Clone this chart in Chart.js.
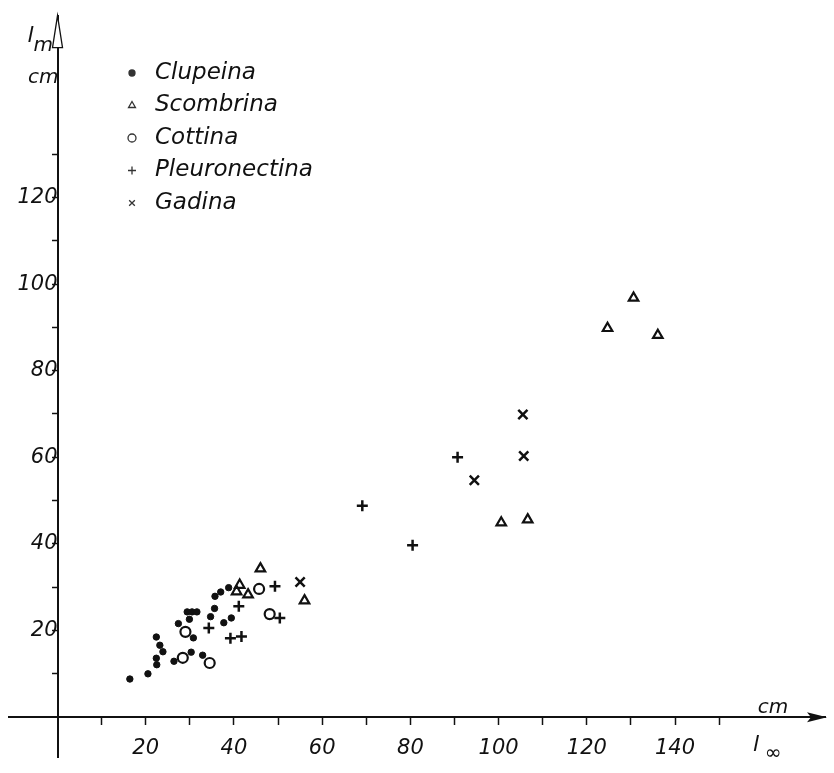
<!DOCTYPE html>
<html>
<head>
<meta charset="utf-8">
<title>l_m vs l_inf</title>
<script src="https://cdn.jsdelivr.net/npm/chart.js@4.4.1/dist/chart.umd.min.js"></script>
<style>
  html, body { margin: 0; padding: 0; background: #fff; }
  #wrap { width: 834px; height: 773px; }
</style>
</head>
<body>
<div id="wrap"><canvas id="chart"></canvas></div>
<script>
// values (l_inf in cm, l_m in cm)
const clupeinaX = [16.4, 20.5, 22.5, 22.4, 23.9, 23.2, 22.4, 26.4, 27.4, 29.9, 29.4, 30.5, 31.6, 30.8, 30.3, 32.9, 34.7, 35.6, 35.7, 37.0, 38.8, 37.7, 39.4];
const clupeinaY = [8.8, 10.0, 12.1, 13.6, 15.1, 16.6, 18.5, 12.9, 21.6, 22.6, 24.3, 24.3, 24.3, 18.3, 15.0, 14.3, 23.2, 25.1, 27.9, 28.9, 29.9, 21.8, 22.9];

const scombrinaX = [46.0, 41.3, 40.6, 43.2, 56.0, 100.6, 106.6, 124.7, 130.6, 136.1];
const scombrinaY = [34.3, 30.5, 29.0, 28.3, 26.9, 44.9, 45.6, 89.8, 96.8, 88.2];

const cottinaX = [28.4, 34.5, 29.0, 48.1, 45.7];
const cottinaY = [13.7, 12.5, 19.7, 23.8, 29.6];

const pleuroX = [34.3, 41.1, 39.2, 41.7, 49.3, 50.4, 69.1, 80.5, 90.7];
const pleuroY = [20.6, 25.6, 18.2, 18.6, 30.2, 22.9, 48.8, 39.7, 60.0];

const gadinaX = [55.0, 94.5, 105.7, 105.5];
const gadinaY = [31.2, 54.7, 60.3, 69.9];

const xTicks = [10, 20, 30, 40, 50, 60, 70, 80, 90, 100, 110, 120, 130, 140, 150];
const yTicks = [10, 20, 30, 40, 50, 60, 70, 80, 90, 100, 110, 120, 130];

const ink = "#111";
const fontFamily = "'DejaVu Sans', 'Liberation Sans', sans-serif";

function pairs(xs, ys) {
    return xs.map((x, i) => ({ x: x, y: ys[i] }));
}

function series(label, xs, ys, style, radius, width, filled) {
    return {
        label: label,
        data: pairs(xs, ys),
        pointStyle: style,
        pointRadius: radius,
        pointHoverRadius: radius,
        pointBorderWidth: width,
        pointBorderColor: ink,
        pointBackgroundColor: filled ? ink : "rgba(0,0,0,0)"
    };
}

// legend, arrows and axis names drawn on top
const decorations = {
    id: "decorations",
    afterDraw(chart) {
        const ctx = chart.ctx;
        const area = chart.chartArea;
        const ax = chart.scales.x.getPixelForValue(0);
        const ay = chart.scales.y.getPixelForValue(0);
        ctx.save();
        ctx.strokeStyle = ink;
        ctx.fillStyle = ink;

        // open arrow head on the y axis
        ctx.lineWidth = 1.3;
        ctx.beginPath();
        ctx.moveTo(ax, area.top);
        ctx.lineTo(ax - 5, area.top + 32);
        ctx.lineTo(ax + 5, area.top + 32);
        ctx.closePath();
        ctx.fillStyle = "#fff";
        ctx.fill();
        ctx.stroke();

        // arrow head on the x axis
        ctx.fillStyle = ink;
        ctx.beginPath();
        ctx.moveTo(area.right + 2, ay);
        ctx.lineTo(area.right - 18, ay - 5);
        ctx.lineTo(area.right - 14, ay);
        ctx.lineTo(area.right - 18, ay + 5);
        ctx.closePath();
        ctx.fill();

        // axis names
        ctx.font = "italic 22px " + fontFamily;
        ctx.textBaseline = "alphabetic";
        ctx.textAlign = "left";
        ctx.fillText("l", ax - 30, ay - 675);
        ctx.font = "italic 20px " + fontFamily;
        ctx.fillText("m", ax - 24, ay - 666);
        ctx.textAlign = "right";
        ctx.fillText("cm", ax + 1, ay - 634);

        ctx.textAlign = "center";
        ctx.fillText("cm", 773, ay - 4);
        ctx.font = "italic 22px " + fontFamily;
        ctx.fillText("l", 756, ay + 34);
        ctx.font = "italic 20px " + fontFamily;
        ctx.fillText("\u221E", 773, ay + 42);

        // legend
        const lx = 132, tx = 155, top = 73, step = 32.5;
        chart.data.datasets.forEach((ds, i) => {
            const y = top + i * step;
            ctx.strokeStyle = "#333";
            ctx.fillStyle = i === 0 ? "#333" : "rgba(0,0,0,0)";
            Chart.helpers.drawPoint(ctx, {
                pointStyle: ds.pointStyle,
                radius: i === 0 ? 3 : 4,
                borderWidth: 1.2,
                rotation: 0
            }, lx, y);
            ctx.fillStyle = ink;
            ctx.font = "italic 23px " + fontFamily;
            ctx.textAlign = "left";
            ctx.textBaseline = "middle";
            ctx.fillText(ds.label, tx, y);
        });
        ctx.restore();
    }
};

const ctx = document.getElementById("chart").getContext("2d");
new Chart(ctx, {
    type: "scatter",
    data: {
        datasets: [
            series("Clupeina", clupeinaX, clupeinaY, "circle", 3.2, 1, true),
            series("Scombrina", scombrinaX, scombrinaY, "triangle", 5.5, 2.2, false),
            series("Cottina", cottinaX, cottinaY, "circle", 5, 2.2, false),
            series("Pleuronectina", pleuroX, pleuroY, "cross", 5.5, 2.5, false),
            series("Gadina", gadinaX, gadinaY, "crossRot", 6.5, 2.5, false)
        ]
    },
    options: {
        responsive: true,
        maintainAspectRatio: false,
        animation: false,
        layout: { padding: { left: 7, right: 4, top: 10, bottom: 6 } },
        plugins: {
            legend: { display: false },
            tooltip: { enabled: false }
        },
        scales: {
            x: {
                type: "linear",
                position: { y: 0 },
                min: -11,
                max: 174,
                afterBuildTicks: axis => { axis.ticks = xTicks.map(v => ({ value: v })); },
                grid: { drawOnChartArea: false, drawTicks: true, tickLength: 7, tickColor: ink, tickWidth: 1.5 },
                border: { display: true, color: ink, width: 2 },
                ticks: {
                    color: ink,
                    padding: 12,
                    maxRotation: 0,
                    autoSkip: false,
                    font: { family: fontFamily, size: 21, style: "italic" },
                    callback: v => (v % 20 === 0 ? String(v) : "")
                }
            },
            y: {
                type: "linear",
                position: { x: 0 },
                min: -9.3,
                max: 162,
                afterBuildTicks: axis => { axis.ticks = yTicks.map(v => ({ value: v })); },
                grid: { drawOnChartArea: false, drawTicks: true, tickLength: 5, tickColor: ink, tickWidth: 1.5 },
                border: { display: true, color: ink, width: 2 },
                ticks: {
                    color: ink,
                    padding: 3,
                    autoSkip: false,
                    font: { family: fontFamily, size: 21, style: "italic" },
                    callback: v => (v % 20 === 0 ? String(v) : "")
                }
            }
        }
    },
    plugins: [decorations]
});
</script>
</body>
</html>
